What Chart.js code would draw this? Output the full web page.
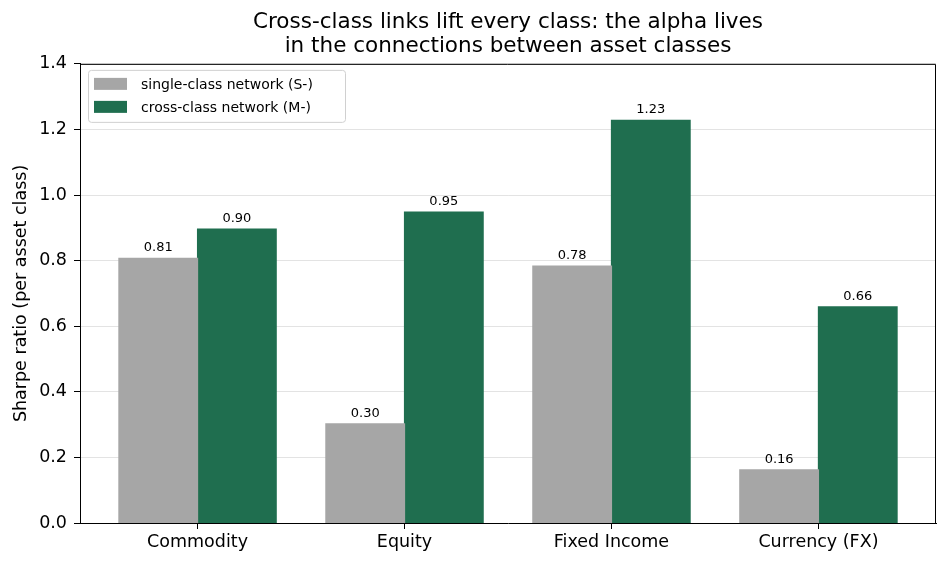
<!DOCTYPE html>
<html>
<head>
<meta charset="utf-8">
<script src="https://cdn.jsdelivr.net/npm/chart.js@4.4.1/dist/chart.umd.min.js"></script>
<style>
  html, body { margin: 0; padding: 0; background: #fff; }
  canvas { display: block; }
</style>
</head>
<body>
<canvas id="sharpeChart" width="948" height="567"></canvas>
<script>
const categories = ["Commodity", "Equity", "Fixed Income", "Currency (FX)"];
const singleClass = [0.807, 0.302, 0.783, 0.162];
const crossClass = [0.896, 0.948, 1.228, 0.659];
const seriesNames = ["single-class network (S-)", "cross-class network (M-)"];
const yTicks = [0, 0.2, 0.4, 0.6, 0.8, 1.0, 1.2, 1.4];

const FONT = "'DejaVu Sans', sans-serif";

// centre the title over the axes, like matplotlib does
const titleOverAxes = {
    id: 'titleOverAxes',
    afterLayout(chart) {
        if (chart.titleBlock) {
            chart.titleBlock.left = chart.chartArea.left;
            chart.titleBlock.right = chart.chartArea.right;
        }
    }
};

// matplotlib-style box on the top and right of the plot area
const frame = {
    id: 'frame',
    afterDraw(chart) {
        const { ctx, chartArea: a } = chart;
        ctx.save();
        ctx.strokeStyle = '#000';
        ctx.lineWidth = 1;
        ctx.beginPath();
        ctx.moveTo(a.left, a.top + 0.5);
        ctx.lineTo(a.right - 0.5, a.top + 0.5);
        ctx.lineTo(a.right - 0.5, a.bottom);
        ctx.stroke();
        ctx.restore();
    }
};

// value labels above every bar
const barLabels = {
    id: 'barLabels',
    afterDatasetsDraw(chart) {
        const ctx = chart.ctx;
        ctx.save();
        ctx.font = '13px ' + FONT;
        ctx.fillStyle = '#000';
        ctx.textAlign = 'center';
        ctx.textBaseline = 'alphabetic';
        chart.data.datasets.forEach((ds, i) => {
            chart.getDatasetMeta(i).data.forEach((bar, j) => {
                ctx.fillText(ds.data[j].y.toFixed(2), bar.x, bar.y - 7);
            });
        });
        ctx.restore();
    }
};

// legend drawn inside the axes, upper left
const innerLegend = {
    id: 'innerLegend',
    afterDraw(chart) {
        const { ctx, chartArea: a } = chart;
        const x = a.left + 8, y = a.top + 6, w = 257, h = 52;
        ctx.save();
        ctx.beginPath();
        ctx.roundRect(x + 0.5, y + 0.5, w, h, 3);
        ctx.fillStyle = 'rgba(255,255,255,0.8)';
        ctx.fill();
        ctx.strokeStyle = '#d0d0d0';
        ctx.lineWidth = 1;
        ctx.stroke();
        ctx.font = '14px ' + FONT;
        ctx.textBaseline = 'middle';
        chart.data.datasets.forEach((ds, i) => {
            const cy = y + 14 + i * 23;
            ctx.fillStyle = ds.backgroundColor;
            ctx.fillRect(x + 6, cy - 6, 33, 12);
            ctx.fillStyle = '#000';
            ctx.fillText(ds.label, x + 53, cy + 1);
        });
        ctx.restore();
    }
};

new Chart(document.getElementById('sharpeChart'), {
    type: 'bar',
    data: {
        datasets: [
            {
                label: seriesNames[0],
                data: singleClass.map((v, i) => ({ x: i, y: v })),
                backgroundColor: '#a6a6a6',
                borderWidth: 0,
                inflateAmount: 0.6
            },
            {
                label: seriesNames[1],
                data: crossClass.map((v, i) => ({ x: i, y: v })),
                backgroundColor: '#1f6e4f',
                borderWidth: 0,
                inflateAmount: 0.6
            }
        ]
    },
    options: {
        responsive: false,
        animation: false,
        events: [],
        categoryPercentage: 0.76,
        barPercentage: 1.0,
        layout: { padding: { left: 0, right: 12, top: 0, bottom: 0 } },
        scales: {
            x: {
                type: 'linear',
                min: -0.568,
                max: 3.568,
                offset: false,
                z: 1,
                afterBuildTicks: (scale) => {
                    scale.ticks = categories.map((c, i) => ({ value: i }));
                },
                afterFit: (scale) => { scale.height = 44; },
                ticks: {
                    callback: (v) => categories[v],
                    color: '#000',
                    font: { family: FONT, size: 17.5 },
                    padding: 3,
                    maxRotation: 0,
                    autoSkip: false
                },
                grid: {
                    display: true,
                    drawOnChartArea: false,
                    drawTicks: true,
                    tickLength: 6,
                    color: '#000',
                    offset: false
                },
                border: { display: true, color: '#000', width: 1 }
            },
            y: {
                min: 0,
                max: 1.4,
                z: 1,
                afterBuildTicks: (scale) => {
                    scale.ticks = yTicks.map(v => ({ value: v }));
                },
                afterFit: (scale) => { scale.width = 80; },
                ticks: {
                    callback: (v) => v.toFixed(1),
                    color: '#000',
                    font: { family: FONT, size: 17.5 },
                    padding: 7
                },
                grid: {
                    color: 'rgba(176,176,176,0.35)',
                    tickColor: '#000',
                    tickLength: 6,
                    lineWidth: 1
                },
                border: { display: true, color: '#000', width: 1 },
                title: {
                    display: true,
                    text: 'Sharpe ratio (per asset class)',
                    color: '#000',
                    font: { family: FONT, size: 17.5 },
                    padding: { top: 11, bottom: 0 }
                }
            }
        },
        plugins: {
            legend: { display: false },
            tooltip: { enabled: false },
            title: {
                display: true,
                text: ['Cross-class links lift every class: the alpha lives',
                       'in the connections between asset classes'],
                color: '#000',
                font: { family: FONT, size: 21.5, weight: 'normal', lineHeight: 1.09 },
                padding: { top: 11, bottom: 6 }
            }
        }
    },
    plugins: [titleOverAxes, frame, barLabels, innerLegend]
});
</script>
</body>
</html>
